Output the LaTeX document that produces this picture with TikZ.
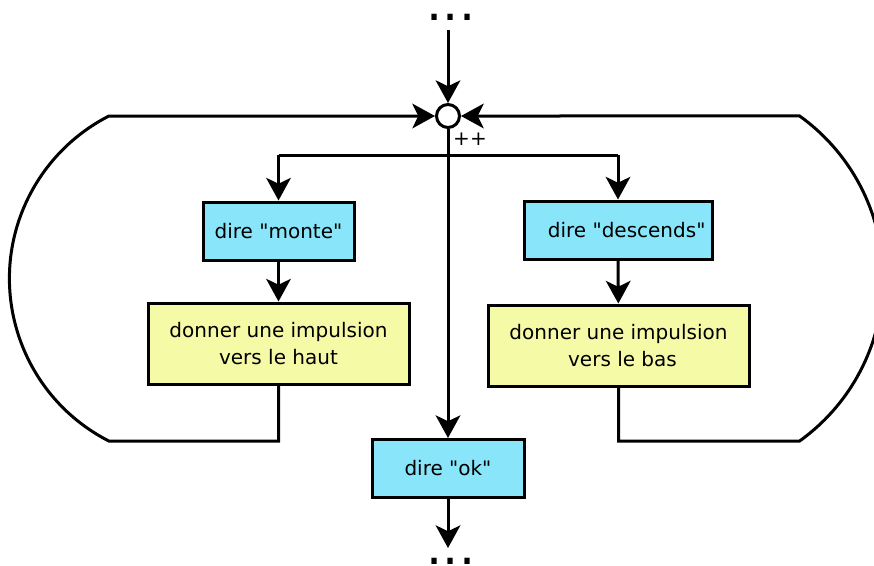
\documentclass[tikz,border=0pt]{standalone}
\usepackage{fontspec}
% plain family, so that " stays a straight quote
\newfontfamily\labelfont{DejaVu Sans}
\usetikzlibrary{arrows.meta}
\definecolor{saycyan}{RGB}{137,229,249}
\definecolor{pushyellow}{RGB}{245,250,167}
\begin{document}
\begin{tikzpicture}[x=0.75pt,y=-0.75pt,
  every node/.style={font=\labelfont\fontsize{15pt}{20pt}\selectfont},
  box/.style={draw,line width=2.25pt,inner sep=0pt,align=center},
  saybox/.style={box,fill=saycyan,minimum height=43.5pt},
  pushbox/.style={box,fill=pushyellow,minimum height=60.75pt,minimum width=195.75pt},
  wire/.style={line width=2.25pt},
  flow/.style={wire,-{Stealth[length=17pt,width=18.5pt,inset=4.5pt]}},
  ellipsis/.style={font=\labelfont\fontsize{38pt}{38pt}\selectfont,inner sep=0pt,anchor=base}]
\useasboundingbox (0,0) rectangle (874,565);
\clip (0,0) rectangle (874,565);

% continuation marks above and below
\node[ellipsis] (topdots) at (451,20) {...};
\node[ellipsis] (botdots) at (451,564) {...};

% junction ring
\node[draw,circle,line width=2.25pt,minimum size=17.25pt,inner sep=0pt] (ring) at (448,116) {};
\node[inner sep=0pt] (plus) at (470,139) {++};

% action boxes
\node[saybox,minimum width=113.25pt] (monte) at (278.5,231) {dire "monte"};
\node[pushbox] (haut) at (278.5,343.5) {donner une impulsion\\vers le haut};
\node[saybox,minimum width=141pt] (desc) at (618,230) {\hspace*{13pt}dire "descends"};
\node[pushbox] (bas) at (618.5,345.5) {donner une impulsion\\\hspace*{6pt}vers le bas};
\node[saybox,minimum width=114pt] (ok) at (448,468.5) {dire "ok"};

% entry and exit
\coordinate (entry) at (448,30);
\coordinate (exit) at (448,548);
\draw[flow] (entry) -- (ring);
\draw[flow] (ok) -- (exit);

% main stem to the exit box
\draw[flow] (ring) -- (ok);

% branch towards the two loops
\coordinate (splitL) at (278.5,155);
\coordinate (splitR) at (618,155);
\draw[wire] (splitL) -- (splitR);
\draw[flow] (splitL) -- (monte);
\draw[flow] (splitR) -- (desc);
\draw[flow] (monte) -- (haut);
\draw[flow] (desc) -- (bas);

% return loops back to the ring
\coordinate (loopL) at (108.8,441);
\coordinate (loopR) at (799.6,441);
\draw[flow] (haut.south) |- (loopL)
  arc[start angle=117.1,end angle=242.9,radius=182.5] -- (ring);
\draw[flow] (bas.south) |- (loopR)
  arc[start angle=54.35,end angle=-54.35,radius=200] -- (ring);
\end{tikzpicture}
\end{document}
